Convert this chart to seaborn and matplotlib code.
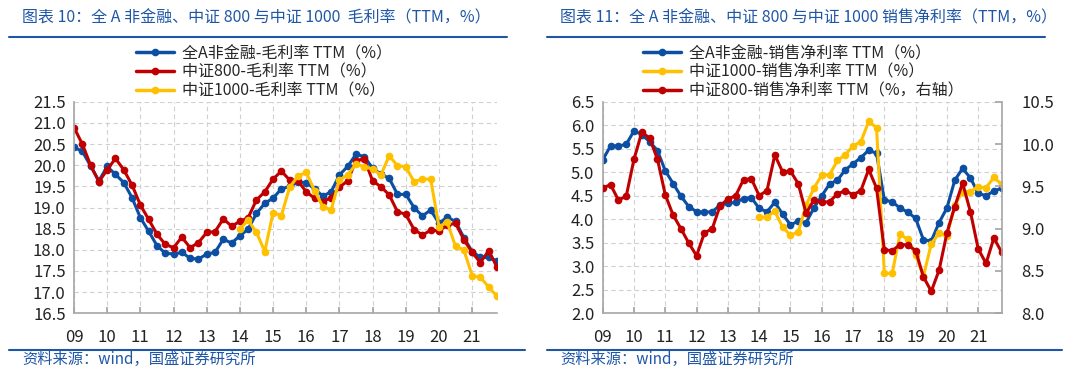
"""
Gross margin and net margin (TTM) for all-A non-financials, CSI 800 and CSI 1000.
Two panels side by side, quarterly points from 2009.
"""
import numpy as np
import pandas as pd
import matplotlib
matplotlib.use("Agg")
import matplotlib.pyplot as plt
from matplotlib.lines import Line2D
import seaborn as sns

# quarters on the x axis
quarters = pd.period_range("2009Q1", "2021Q4", freq="Q")
years = quarters.year + (quarters.quarter - 1) / 4.0
ZZ1000_START = 20  # CSI 1000 series begins at 2014Q1

# Chart 10: gross margin TTM (%)
gm_all_a = [20.42, 20.33, 19.98, 19.63, 19.97, 19.78, 19.59, 19.23, 18.76, 18.44,
            18.10, 17.92, 17.90, 17.94, 17.80, 17.78, 17.90, 17.94, 18.25, 18.16,
            18.33, 18.49, 18.86, 19.10, 19.22, 19.44, 19.50, 19.60, 19.59, 19.44,
            19.27, 19.37, 19.77, 19.97, 20.26, 20.20, 19.93, 19.79, 19.69, 19.31,
            19.31, 19.00, 18.80, 18.94, 18.63, 18.77, 18.67, 18.29, 17.96, 17.82,
            17.82, 17.74]
gm_zz800 = [20.89, 20.50, 20.00, 19.61, 19.89, 20.16, 19.89, 19.53, 19.06, 18.72,
            18.37, 18.13, 18.05, 18.30, 18.05, 18.17, 18.41, 18.43, 18.73, 18.56,
            18.67, 18.76, 19.18, 19.37, 19.67, 19.86, 19.65, 19.63, 19.37, 19.22,
            19.14, 19.23, 19.48, 19.63, 20.11, 20.15, 19.63, 19.49, 19.30, 18.90,
            18.84, 18.48, 18.35, 18.46, 18.45, 18.58, 18.63, 18.24, 17.94, 17.70,
            17.98, 17.59]
gm_zz1000 = [18.49, 18.70, 18.41, 17.96, 18.88, 18.81, 19.48, 19.74, 19.83, 19.40,
             19.02, 18.94, 19.65, 19.77, 20.03, 19.96, 19.91, 19.77, 20.22, 19.99,
             19.96, 19.61, 19.67, 19.67, 18.55, 18.65, 18.08, 18.00, 17.39, 17.35,
             17.12, 16.90]

# Chart 11: net margin TTM (%), CSI 800 on the right axis
nm_all_a = [5.26, 5.56, 5.56, 5.59, 5.88, 5.80, 5.65, 5.46, 5.03, 4.76,
            4.49, 4.27, 4.16, 4.15, 4.16, 4.30, 4.34, 4.36, 4.44, 4.46,
            4.23, 4.16, 4.36, 4.11, 3.88, 3.96, 3.93, 4.24, 4.50, 4.75,
            4.83, 5.05, 5.18, 5.31, 5.47, 5.40, 4.41, 4.37, 4.24, 4.15,
            4.02, 3.56, 3.54, 3.93, 4.24, 4.83, 5.08, 4.88, 4.55, 4.50,
            4.60, 4.66]
nm_zz1000 = [4.04, 4.05, 4.17, 3.83, 3.66, 3.73, 4.30, 4.66, 4.94, 4.95,
             5.25, 5.37, 5.56, 5.65, 6.08, 5.95, 2.85, 2.85, 3.68, 3.57,
             3.24, 2.79, 3.48, 3.70, 3.64, 4.30, 4.59, 4.59, 4.69, 4.67,
             4.89, 4.74]
nm_zz800 = [9.48, 9.52, 9.34, 9.38, 9.82, 10.14, 10.07, 9.82, 9.40, 9.16,
            9.00, 8.83, 8.68, 8.95, 9.00, 9.27, 9.35, 9.39, 9.58, 9.59,
            9.39, 9.45, 9.87, 9.67, 9.68, 9.53, 9.18, 9.34, 9.31, 9.32,
            9.41, 9.45, 9.40, 9.45, 9.70, 9.48, 8.75, 8.74, 8.81, 8.81,
            8.74, 8.43, 8.26, 8.51, 8.95, 9.26, 9.54, 9.20, 8.76, 8.59,
            8.89, 8.72]

titles = ["图表 10：全 A 非金融、中证 800 与中证 1000  毛利率（TTM，%）",
          "图表 11：全 A 非金融、中证 800 与中证 1000 销售净利率（TTM，%）"]
legend_left = ["全A非金融-毛利率 TTM（%）", "中证800-毛利率 TTM（%）",
               "中证1000-毛利率 TTM（%）"]
legend_right = ["全A非金融-销售净利率 TTM（%）", "中证1000-销售净利率 TTM（%）",
                "中证800-销售净利率 TTM（%，右轴）"]
source = "资料来源：wind，国盛证券研究所"
year_ticks = list(range(2009, 2022))
year_labels = [f"{y % 100:02d}" for y in year_ticks]

BLUE = "#0B4EA2"
RED = "#C00000"
YELLOW = "#FFC000"
HEAD = "#1F56A6"
GRID = "#D0D0D0"
SPINE = "#A6A6A6"

sns.set_theme(style="white")
plt.rcParams["font.family"] = ["Noto Sans CJK SC", "DejaVu Sans"]
plt.rcParams["axes.unicode_minus"] = False

W, H = 1080, 385
fig = plt.figure(figsize=(W / 100, H / 100), dpi=100)


def px_axes(x0, x1, y_top, y_bot):
    return fig.add_axes([x0 / W, 1 - y_bot / H, (x1 - x0) / W, (y_bot - y_top) / H])


def draw(ax, x, y, color):
    sns.lineplot(x=x, y=y, ax=ax, color=color, linewidth=2.2, marker="o",
                 markersize=5.5, markeredgewidth=0, markeredgecolor=color)


def style_axes(ax, ylim, yticks):
    ax.set_xlim(2009, 2021.75)
    ax.set_ylim(*ylim)
    ax.set_yticks(yticks)
    ax.set_yticklabels([f"{v:.1f}" for v in yticks])
    ax.set_xticks(year_ticks)
    ax.set_xticklabels(year_labels)
    ax.grid(True, color=GRID, linestyle=(0, (4, 3)), linewidth=0.8)
    ax.set_axisbelow(True)
    for side in ["top", "right"]:
        ax.spines[side].set_visible(False)
    for side in ["left", "bottom"]:
        ax.spines[side].set_color(SPINE)
        ax.spines[side].set_linewidth(1.2)
    ax.tick_params(axis="x", direction="in", length=4, color=SPINE, pad=11,
                   labelsize=12, labelcolor="#222222", bottom=True)
    ax.tick_params(axis="y", length=0, pad=6, labelsize=12, labelcolor="#222222")
    ax.set_xlabel("")
    ax.set_ylabel("")


def header(x0, x1, x1_bot, title):
    fig.text((x0 + 13) / W, 1 - 18 / H, title, color=HEAD, fontsize=11.5, va="center")
    fig.add_artist(Line2D([x0 / W, x1 / W], [1 - 37 / H] * 2, color=HEAD, lw=1.5))
    fig.add_artist(Line2D([x0 / W, x1_bot / W], [1 - 350 / H] * 2, color=HEAD, lw=1.5))
    fig.text((x0 + 13) / W, 1 - 359 / H, source, color=HEAD, fontsize=11, va="center")


def legend(ax, labels, colors, x_px):
    handles = [Line2D([], [], color=c, lw=2.5, marker="o", markersize=4.5) for c in colors]
    fig.legend(handles, labels, loc="upper left", bbox_to_anchor=(x_px / W, 1 - 45 / H),
               frameon=False, fontsize=11.5, handlelength=2.4, handletextpad=0.45,
               labelspacing=0.12, borderaxespad=0, borderpad=0)


# ---- left panel: gross margin
ax1 = px_axes(74, 497, 101.7, 313.3)
draw(ax1, years, gm_all_a, BLUE)
draw(ax1, years, gm_zz800, RED)
draw(ax1, years[ZZ1000_START:], gm_zz1000, YELLOW)
style_axes(ax1, (16.5, 21.5), np.arange(16.5, 21.51, 0.5))
header(9, 507, 525, titles[0])
legend(ax1, legend_left, [BLUE, RED, YELLOW], 136)

# ---- right panel: net margin, CSI 800 on twin axis
ax2 = px_axes(602.7, 1001.7, 101.7, 313.3)
ax2r = ax2.twinx()
draw(ax2, years, nm_all_a, BLUE)
draw(ax2, years[ZZ1000_START:], nm_zz1000, YELLOW)
draw(ax2r, years, nm_zz800, RED)
style_axes(ax2, (2.0, 6.5), np.arange(2.0, 6.51, 0.5))
ax2r.set_ylim(8.0, 10.5)
ax2r.set_yticks(np.arange(8.0, 10.51, 0.5))
ax2r.set_yticklabels([f"{v:.1f}" for v in np.arange(8.0, 10.51, 0.5)])
ax2r.set_ylabel("")
ax2r.grid(False)
for side in ["top", "left", "bottom"]:
    ax2r.spines[side].set_visible(False)
ax2r.spines["right"].set_color(SPINE)
ax2r.spines["right"].set_linewidth(1.2)
ax2r.tick_params(axis="y", direction="in", length=5, color=SPINE, pad=14,
                 labelsize=12, labelcolor="#222222", right=True)
header(547, 1045, 1062, titles[1])
legend(ax2, legend_right, [BLUE, YELLOW, RED], 643)

fig.savefig("out.png", dpi=100, facecolor="white")
